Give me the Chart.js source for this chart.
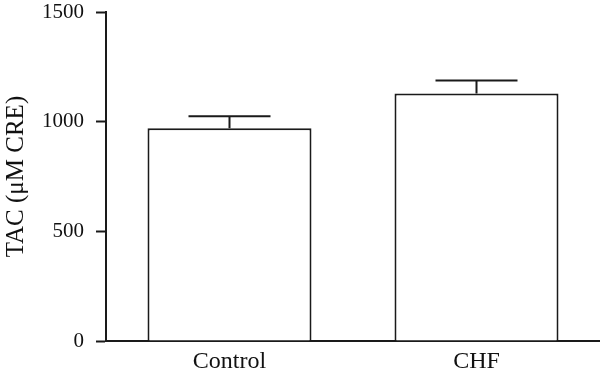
<!DOCTYPE html>
<html>
<head>
<meta charset="utf-8">
<script src="https://cdn.jsdelivr.net/npm/chart.js@4"></script>
<style>
    html, body { margin: 0; padding: 0; background: #fff; }
    #wrap { width: 600px; height: 378px; position: relative; }
</style>
</head>
<body>
<div id="wrap"><canvas id="myChart"></canvas></div>
<script>
const groups = ['Control', 'CHF'];
const tacMeans = [970, 1128];
const tacErrors = [1025, 1188];
const yTicks = [0, 500, 1000, 1500];

const ink = '#1a1a1a';

// draws the upper error whisker and cap over each bar
const errorBars = {
    id: 'errorBars',
    afterDatasetsDraw(chart) {
        const { ctx, scales: { y } } = chart;
        const meta = chart.getDatasetMeta(0);
        ctx.save();
        ctx.strokeStyle = ink;
        ctx.lineWidth = 2;
        meta.data.forEach((bar, i) => {
            const top = y.getPixelForValue(tacErrors[i]);
            const half = bar.width / 4;
            ctx.beginPath();
            ctx.moveTo(bar.x, bar.y);
            ctx.lineTo(bar.x, top);
            ctx.moveTo(bar.x - half, top);
            ctx.lineTo(bar.x + half, top);
            ctx.stroke();
        });
        ctx.restore();
    }
};

const ctx = document.getElementById('myChart').getContext('2d');
new Chart(ctx, {
    type: 'bar',
    data: {
        labels: groups,
        datasets: [{
            data: tacMeans,
            backgroundColor: '#fff',
            borderColor: ink,
            borderWidth: 2,
            barPercentage: 0.664,
            categoryPercentage: 1
        }]
    },
    options: {
        responsive: true,
        maintainAspectRatio: false,
        animation: false,
        layout: { padding: { top: 12, right: 0, left: 0, bottom: 0 } },
        plugins: {
            legend: { display: false },
            tooltip: { enabled: false }
        },
        scales: {
            y: {
                min: 0,
                max: 1500,
                afterBuildTicks: (axis) => {
                    axis.ticks = yTicks.map(v => ({ value: v }));
                },
                afterFit: (axis) => {
                    axis.width = 106;
                    axis.paddingTop = 0;
                    axis.paddingBottom = 0;
                },
                ticks: {
                    color: '#111',
                    padding: 12,
                    callback: (v) => String(v),
                    font: { family: '"Liberation Serif", serif', size: 21 }
                },
                grid: {
                    drawOnChartArea: false,
                    drawTicks: true,
                    tickLength: 10,
                    tickWidth: 2,
                    tickColor: ink
                },
                border: { display: true, color: ink, width: 2 },
                title: {
                    display: true,
                    text: 'TAC (μM CRE)',
                    color: '#111',
                    padding: { top: 1, bottom: 0 },
                    font: { family: '"Liberation Serif", serif', size: 25 }
                }
            },
            x: {
                afterFit: (axis) => {
                    axis.height = 37;
                    axis.paddingLeft = 0;
                    axis.paddingRight = 0;
                },
                ticks: {
                    color: '#111',
                    padding: 6,
                    font: { family: '"Liberation Serif", serif', size: 24 }
                },
                grid: { display: false, drawTicks: false, tickLength: 0 },
                border: { display: true, color: ink, width: 2 }
            }
        }
    },
    plugins: [errorBars]
});
</script>
</body>
</html>
